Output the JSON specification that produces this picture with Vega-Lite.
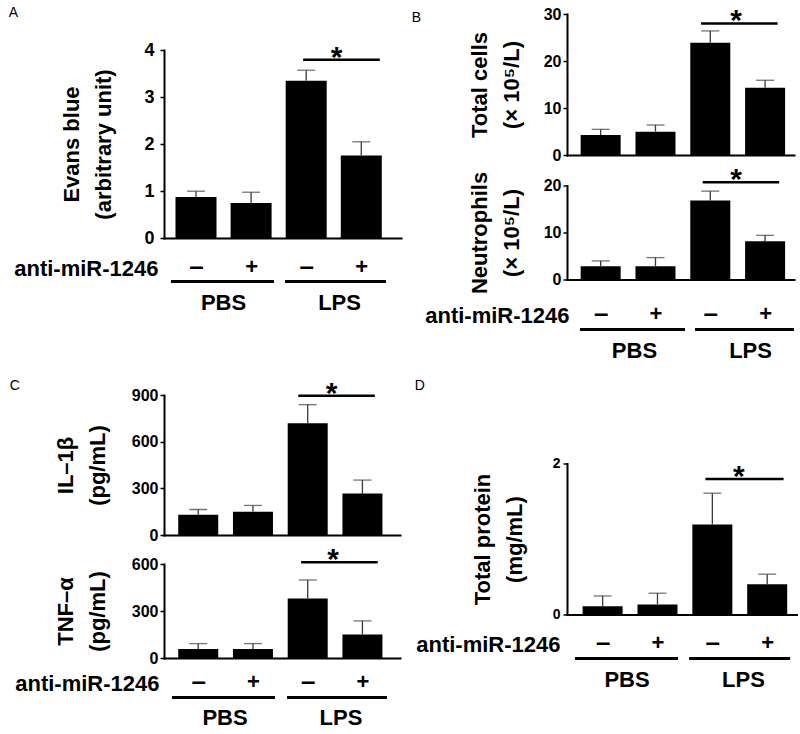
{
  "$schema": "https://vega.github.io/schema/vega-lite/v6.json",
  "padding": {"left": 8, "top": 6, "right": 0, "bottom": 0},
  "config": {
    "view": {"stroke": null},
    "font": "Liberation Sans",
    "axis": {"domainColor": "black", "domainWidth": 2, "domainCap": "square", "tickColor": "black", "tickWidth": 1.5, "labelColor": "black", "titleColor": "black", "labelFont": "Liberation Sans", "titleFont": "Liberation Sans", "labelFontWeight": "bold", "titleFontWeight": "bold", "grid": false},
    "title": {"font": "Liberation Sans", "fontSize": 14, "fontWeight": "normal", "color": "black", "anchor": "start", "frame": "bounds"}
  },
  "vconcat": [
    {
      "hconcat": [
        {
          "title": {"text": "A", "offset": -6, "dx": -5},
          "spacing": 1,
          "vconcat": [
            {"width": 237, "height": 26, "data": {"values": []}, "mark": "point"},
            {
              "width": 237, "height": 188,
              "data": {"values": [
                {"pos": 1, "treatment": "PBS", "antimiR": "–", "value": 0.874, "upper": 0.996},
                {"pos": 2, "treatment": "PBS", "antimiR": "+", "value": 0.746, "upper": 0.974},
                {"pos": 3, "treatment": "LPS", "antimiR": "–", "value": 3.348, "upper": 3.57},
                {"pos": 4, "treatment": "LPS", "antimiR": "+", "value": 1.757, "upper": 2.047}
              ]},
              "layer": [
                {"mark": {"type": "bar", "color": "black", "width": 41, "orient": "vertical"},
                 "encoding": {
                   "x": {"field": "pos", "type": "quantitative", "scale": {"domain": [0.51, 4.63], "nice": false, "zero": false},
                         "axis": {"values": [1, 2, 3, 4], "labelExpr": "datum.value == 1 || datum.value == 3 ? '–' : '+'", "ticks": false, "tickSize": 0, "labelPadding": 28, "labelFontSize": {"condition": {"test": "datum.value == 1 || datum.value == 3", "value": 26}, "value": 22}, "labelBaseline": "middle", "labelFlush": false, "labelOverlap": false, "title": "anti-miR-1246", "titleFontSize": 22, "titleX": -6, "titleY": 30, "titleAlign": "right", "titleBaseline": "middle", "titleAngle": 0}},
                   "y": {"field": "value", "type": "quantitative", "stack": null, "scale": {"domain": [0, 4], "nice": false},
                         "axis": {"values": [0, 1, 2, 3, 4], "title": ["Evans blue", "(arbitrary unit)"], "titleFontSize": 22, "titleLineHeight": 32, "titlePadding": 28, "tickSize": 4, "labelPadding": 6, "labelFontSize": 18}}
                 }},
                {"mark": {"type": "rule", "color": "#3a3a3a", "strokeWidth": 1.3},
                 "encoding": {
                   "x": {"field": "pos", "type": "quantitative"},
                   "y": {"field": "value", "type": "quantitative"},
                   "y2": {"field": "upper"}
                 }},
                {"mark": {"type": "tick", "orient": "horizontal", "color": "#3a3a3a", "size": 18, "thickness": 1.3},
                 "encoding": {
                   "x": {"field": "pos", "type": "quantitative"},
                   "y": {"field": "upper", "type": "quantitative"}
                 }},
                {"data": {"values": [{"from": 2.944, "to": 4.336, "at": 3.553, "level": 3.79, "star": "*"}]},
                 "mark": {"type": "rule", "color": "black", "strokeWidth": 2.5},
                 "encoding": {
                   "x": {"field": "from", "type": "quantitative"},
                   "x2": {"field": "to"},
                   "y": {"field": "level", "type": "quantitative"}
                 }},
                {"data": {"values": [{"from": 2.944, "to": 4.336, "at": 3.553, "level": 3.79, "star": "*"}]},
                 "mark": {"type": "text", "fontSize": 30, "fontWeight": "bold", "baseline": "alphabetic", "dy": 7, "color": "black"},
                 "encoding": {
                   "x": {"field": "at", "type": "quantitative"},
                   "y": {"field": "level", "type": "quantitative"},
                   "text": {"field": "star"}
                 }}
              ]
            },
            {
              "width": 237, "height": 3,
              "data": {"values": [{"group": "PBS", "start": 0.631, "end": 2.423}, {"group": "LPS", "start": 2.614, "end": 4.370}]},
              "mark": {"type": "rect", "color": "black"},
              "encoding": {
                "x": {"field": "start", "type": "quantitative", "scale": {"domain": [0.51, 4.63], "nice": false, "zero": false},
                      "axis": {"values": [1.536, 3.553], "labelExpr": "datum.value < 2.5 ? 'PBS' : 'LPS'", "domain": false, "ticks": false, "tickSize": 0, "labelPadding": 9, "labelFontSize": 22, "labelFlush": false, "labelOverlap": false, "title": null}},
                "x2": {"field": "end"}
              }
            }
          ]
        },
        {
          "title": {"text": "B", "offset": -19, "dx": -13},
          "spacing": 1.5,
          "vconcat": [
            {
              "width": 227, "height": 141,
              "data": {"values": [
                {"pos": 1, "treatment": "PBS", "antimiR": "–", "value": 4.26, "upper": 5.46},
                {"pos": 2, "treatment": "PBS", "antimiR": "+", "value": 4.96, "upper": 6.38},
                {"pos": 3, "treatment": "LPS", "antimiR": "–", "value": 23.9, "upper": 26.4},
                {"pos": 4, "treatment": "LPS", "antimiR": "+", "value": 14.3, "upper": 15.9}
              ]},
              "layer": [
                {"mark": {"type": "bar", "color": "black", "width": 40, "orient": "vertical"},
                 "encoding": {
                   "x": {"field": "pos", "type": "quantitative", "scale": {"domain": [0.477, 4.436], "nice": false, "zero": false},
                         "axis": {"labels": false, "ticks": false, "tickSize": 0, "title": null}},
                   "y": {"field": "value", "type": "quantitative", "stack": null, "scale": {"domain": [0, 30], "nice": false},
                         "axis": {"values": [0, 10, 20, 30], "title": ["Total cells", "(× 10⁵/L)"], "titleFontSize": 22, "titleLineHeight": 32, "titlePadding": 20, "tickSize": 4, "labelPadding": 2, "labelFontSize": 16}}
                 }},
                {"mark": {"type": "rule", "color": "#3a3a3a", "strokeWidth": 1.3},
                 "encoding": {"x": {"field": "pos", "type": "quantitative"}, "y": {"field": "value", "type": "quantitative"}, "y2": {"field": "upper"}}},
                {"mark": {"type": "tick", "orient": "horizontal", "color": "#3a3a3a", "size": 18, "thickness": 1.3},
                 "encoding": {"x": {"field": "pos", "type": "quantitative"}, "y": {"field": "upper", "type": "quantitative"}}},
                {"data": {"values": [{"from": 2.832, "to": 4.227, "at": 3.47, "level": 28.0, "star": "*"}]},
                 "mark": {"type": "rule", "color": "black", "strokeWidth": 2.5},
                 "encoding": {"x": {"field": "from", "type": "quantitative"}, "x2": {"field": "to"}, "y": {"field": "level", "type": "quantitative"}}},
                {"data": {"values": [{"from": 2.832, "to": 4.227, "at": 3.47, "level": 28.0, "star": "*"}]},
                 "mark": {"type": "text", "fontSize": 30, "fontWeight": "bold", "baseline": "alphabetic", "dy": 7, "color": "black"},
                 "encoding": {"x": {"field": "at", "type": "quantitative"}, "y": {"field": "level", "type": "quantitative"}, "text": {"field": "star"}}}
              ]
            },
            {
              "width": 227, "height": 94,
              "data": {"values": [
                {"pos": 1, "treatment": "PBS", "antimiR": "–", "value": 2.82, "upper": 3.95},
                {"pos": 2, "treatment": "PBS", "antimiR": "+", "value": 2.82, "upper": 4.66},
                {"pos": 3, "treatment": "LPS", "antimiR": "–", "value": 16.8, "upper": 18.8},
                {"pos": 4, "treatment": "LPS", "antimiR": "+", "value": 8.12, "upper": 9.39}
              ]},
              "layer": [
                {"mark": {"type": "bar", "color": "black", "width": 40, "orient": "vertical"},
                 "encoding": {
                   "x": {"field": "pos", "type": "quantitative", "scale": {"domain": [0.477, 4.436], "nice": false, "zero": false},
                         "axis": {"values": [1, 2, 3, 4], "labelExpr": "datum.value == 1 || datum.value == 3 ? '–' : '+'", "ticks": false, "tickSize": 0, "labelPadding": 34, "labelFontSize": {"condition": {"test": "datum.value == 1 || datum.value == 3", "value": 26}, "value": 22}, "labelBaseline": "middle", "labelFlush": false, "labelOverlap": false, "title": "anti-miR-1246", "titleFontSize": 22, "titleX": 2, "titleY": 36, "titleAlign": "right", "titleBaseline": "middle", "titleAngle": 0}},
                   "y": {"field": "value", "type": "quantitative", "stack": null, "scale": {"domain": [0, 20], "nice": false},
                         "axis": {"values": [0, 10, 20], "title": ["Neutrophils", "(× 10⁵/L)"], "titleFontSize": 22, "titleLineHeight": 32, "titlePadding": 20, "tickSize": 4, "labelPadding": 2, "labelFontSize": 16}}
                 }},
                {"mark": {"type": "rule", "color": "#3a3a3a", "strokeWidth": 1.3},
                 "encoding": {"x": {"field": "pos", "type": "quantitative"}, "y": {"field": "value", "type": "quantitative"}, "y2": {"field": "upper"}}},
                {"mark": {"type": "tick", "orient": "horizontal", "color": "#3a3a3a", "size": 18, "thickness": 1.3},
                 "encoding": {"x": {"field": "pos", "type": "quantitative"}, "y": {"field": "upper", "type": "quantitative"}}},
                {"data": {"values": [{"from": 2.861, "to": 4.256, "at": 3.47, "level": 20.7, "star": "*"}]},
                 "mark": {"type": "rule", "color": "black", "strokeWidth": 2.5},
                 "encoding": {"x": {"field": "from", "type": "quantitative"}, "x2": {"field": "to"}, "y": {"field": "level", "type": "quantitative"}}},
                {"data": {"values": [{"from": 2.861, "to": 4.256, "at": 3.47, "level": 20.7, "star": "*"}]},
                 "mark": {"type": "text", "fontSize": 30, "fontWeight": "bold", "baseline": "alphabetic", "dy": 7, "color": "black"},
                 "encoding": {"x": {"field": "at", "type": "quantitative"}, "y": {"field": "level", "type": "quantitative"}, "text": {"field": "star"}}}
              ]
            },
            {
              "width": 227, "height": 3,
              "data": {"values": [{"group": "PBS", "start": 0.703, "end": 2.535}, {"group": "LPS", "start": 2.709, "end": 4.436}]},
              "mark": {"type": "rect", "color": "black"},
              "encoding": {
                "x": {"field": "start", "type": "quantitative", "scale": {"domain": [0.477, 4.436], "nice": false, "zero": false},
                      "axis": {"values": [1.645, 3.669], "labelExpr": "datum.value < 2.5 ? 'PBS' : 'LPS'", "domain": false, "ticks": false, "tickSize": 0, "labelPadding": 9, "labelFontSize": 22, "labelFlush": false, "labelOverlap": false, "title": null}},
                "x2": {"field": "end"}
              }
            }
          ]
        }
      ],
      "spacing": 10
    },
    {
      "hconcat": [
        {
          "title": {"text": "C", "offset": -14, "dx": -5},
          "spacing": 2,
          "vconcat": [
            {
              "width": 236, "height": 140,
              "data": {"values": [
                {"pos": 1, "treatment": "PBS", "antimiR": "–", "value": 130, "upper": 164},
                {"pos": 2, "treatment": "PBS", "antimiR": "+", "value": 149, "upper": 190},
                {"pos": 3, "treatment": "LPS", "antimiR": "–", "value": 718, "upper": 838},
                {"pos": 4, "treatment": "LPS", "antimiR": "+", "value": 267, "upper": 353}
              ]},
              "layer": [
                {"mark": {"type": "bar", "color": "black", "width": 40, "orient": "vertical"},
                 "encoding": {
                   "x": {"field": "pos", "type": "quantitative", "scale": {"domain": [0.466, 4.595], "nice": false, "zero": false},
                         "axis": {"labels": false, "ticks": false, "tickSize": 0, "title": null}},
                   "y": {"field": "value", "type": "quantitative", "stack": null, "scale": {"domain": [0, 900], "nice": false},
                         "axis": {"values": [0, 300, 600, 900], "title": ["IL–1β", "(pg/mL)"], "titleFontSize": 22, "titleLineHeight": 32, "titlePadding": 22, "tickSize": 4, "labelPadding": 2, "labelFontSize": 16}}
                 }},
                {"mark": {"type": "rule", "color": "#3a3a3a", "strokeWidth": 1.3},
                 "encoding": {"x": {"field": "pos", "type": "quantitative"}, "y": {"field": "value", "type": "quantitative"}, "y2": {"field": "upper"}}},
                {"mark": {"type": "tick", "orient": "horizontal", "color": "#3a3a3a", "size": 18, "thickness": 1.3},
                 "encoding": {"x": {"field": "pos", "type": "quantitative"}, "y": {"field": "upper", "type": "quantitative"}}},
                {"data": {"values": [{"from": 2.828, "to": 4.227, "at": 3.437, "level": 895, "star": "*"}]},
                 "mark": {"type": "rule", "color": "black", "strokeWidth": 2.5},
                 "encoding": {"x": {"field": "from", "type": "quantitative"}, "x2": {"field": "to"}, "y": {"field": "level", "type": "quantitative"}}},
                {"data": {"values": [{"from": 2.828, "to": 4.227, "at": 3.437, "level": 895, "star": "*"}]},
                 "mark": {"type": "text", "fontSize": 30, "fontWeight": "bold", "baseline": "alphabetic", "dy": 7, "color": "black"},
                 "encoding": {"x": {"field": "at", "type": "quantitative"}, "y": {"field": "level", "type": "quantitative"}, "text": {"field": "star"}}}
              ]
            },
            {
              "width": 236, "height": 94,
              "data": {"values": [
                {"pos": 1, "treatment": "PBS", "antimiR": "–", "value": 58, "upper": 92},
                {"pos": 2, "treatment": "PBS", "antimiR": "+", "value": 58, "upper": 92},
                {"pos": 3, "treatment": "LPS", "antimiR": "–", "value": 380, "upper": 498},
                {"pos": 4, "treatment": "LPS", "antimiR": "+", "value": 150, "upper": 237}
              ]},
              "layer": [
                {"mark": {"type": "bar", "color": "black", "width": 40, "orient": "vertical"},
                 "encoding": {
                   "x": {"field": "pos", "type": "quantitative", "scale": {"domain": [0.466, 4.595], "nice": false, "zero": false},
                         "axis": {"values": [1, 2, 3, 4], "labelExpr": "datum.value == 1 || datum.value == 3 ? '–' : '+'", "ticks": false, "tickSize": 0, "labelPadding": 23, "labelFontSize": {"condition": {"test": "datum.value == 1 || datum.value == 3", "value": 26}, "value": 22}, "labelBaseline": "middle", "labelFlush": false, "labelOverlap": false, "title": "anti-miR-1246", "titleFontSize": 22, "titleX": -5, "titleY": 25, "titleAlign": "right", "titleBaseline": "middle", "titleAngle": 0}},
                   "y": {"field": "value", "type": "quantitative", "stack": null, "scale": {"domain": [0, 600], "nice": false},
                         "axis": {"values": [0, 300, 600], "title": ["TNF–α", "(pg/mL)"], "titleFontSize": 22, "titleLineHeight": 32, "titlePadding": 22, "tickSize": 4, "labelPadding": 2, "labelFontSize": 16}}
                 }},
                {"mark": {"type": "rule", "color": "#3a3a3a", "strokeWidth": 1.3},
                 "encoding": {"x": {"field": "pos", "type": "quantitative"}, "y": {"field": "value", "type": "quantitative"}, "y2": {"field": "upper"}}},
                {"mark": {"type": "tick", "orient": "horizontal", "color": "#3a3a3a", "size": 18, "thickness": 1.3},
                 "encoding": {"x": {"field": "pos", "type": "quantitative"}, "y": {"field": "upper", "type": "quantitative"}}},
                {"data": {"values": [{"from": 2.880, "to": 4.280, "at": 3.463, "level": 611, "star": "*"}]},
                 "mark": {"type": "rule", "color": "black", "strokeWidth": 2.5},
                 "encoding": {"x": {"field": "from", "type": "quantitative"}, "x2": {"field": "to"}, "y": {"field": "level", "type": "quantitative"}}},
                {"data": {"values": [{"from": 2.880, "to": 4.280, "at": 3.463, "level": 611, "star": "*"}]},
                 "mark": {"type": "text", "fontSize": 30, "fontWeight": "bold", "baseline": "alphabetic", "dy": 7, "color": "black"},
                 "encoding": {"x": {"field": "at", "type": "quantitative"}, "y": {"field": "level", "type": "quantitative"}, "text": {"field": "star"}}}
              ]
            },
            {
              "width": 236, "height": 3,
              "data": {"values": [{"group": "PBS", "start": 0.606, "end": 2.408}, {"group": "LPS", "start": 2.618, "end": 4.367}]},
              "mark": {"type": "rect", "color": "black"},
              "encoding": {
                "x": {"field": "start", "type": "quantitative", "scale": {"domain": [0.466, 4.595], "nice": false, "zero": false},
                      "axis": {"values": [1.525, 3.554], "labelExpr": "datum.value < 2.5 ? 'PBS' : 'LPS'", "domain": false, "ticks": false, "tickSize": 0, "labelPadding": 8, "labelFontSize": 22, "labelFlush": false, "labelOverlap": false, "title": null}},
                "x2": {"field": "end"}
              }
            }
          ]
        },
        {
          "title": {"text": "D", "offset": 2, "dx": -1},
          "spacing": 1.5,
          "vconcat": [
            {"width": 231, "height": 60, "data": {"values": []}, "mark": "point"},
            {
              "width": 231, "height": 151,
              "data": {"values": [
                {"pos": 1, "treatment": "PBS", "antimiR": "–", "value": 0.11, "upper": 0.246},
                {"pos": 2, "treatment": "PBS", "antimiR": "+", "value": 0.132, "upper": 0.282},
                {"pos": 3, "treatment": "LPS", "antimiR": "–", "value": 1.192, "upper": 1.607},
                {"pos": 4, "treatment": "LPS", "antimiR": "+", "value": 0.401, "upper": 0.534}
              ]},
              "layer": [
                {"mark": {"type": "bar", "color": "black", "width": 40, "orient": "vertical"},
                 "encoding": {
                   "x": {"field": "pos", "type": "quantitative", "scale": {"domain": [0.442, 4.47], "nice": false, "zero": false},
                         "axis": {"values": [1, 2, 3, 4], "labelExpr": "datum.value == 1 || datum.value == 3 ? '–' : '+'", "ticks": false, "tickSize": 0, "labelPadding": 28, "labelFontSize": {"condition": {"test": "datum.value == 1 || datum.value == 3", "value": 26}, "value": 22}, "labelBaseline": "middle", "labelFlush": false, "labelOverlap": false, "title": "anti-miR-1246", "titleFontSize": 22, "titleX": -7, "titleY": 30, "titleAlign": "right", "titleBaseline": "middle", "titleAngle": 0}},
                   "y": {"field": "value", "type": "quantitative", "stack": null, "scale": {"domain": [0, 2], "nice": false},
                         "axis": {"values": [0, 1, 2], "format": "d", "title": ["Total protein", "(mg/mL)"], "titleFontSize": 22, "titleLineHeight": 32, "titlePadding": 26, "tickSize": 4, "labelPadding": 3, "labelFontSize": 14}}
                 }},
                {"mark": {"type": "rule", "color": "#3a3a3a", "strokeWidth": 1.3},
                 "encoding": {"x": {"field": "pos", "type": "quantitative"}, "y": {"field": "value", "type": "quantitative"}, "y2": {"field": "upper"}}},
                {"mark": {"type": "tick", "orient": "horizontal", "color": "#3a3a3a", "size": 18, "thickness": 1.3},
                 "encoding": {"x": {"field": "pos", "type": "quantitative"}, "y": {"field": "upper", "type": "quantitative"}}},
                {"data": {"values": [{"from": 2.873, "to": 4.298, "at": 3.483, "level": 1.796, "star": "*"}]},
                 "mark": {"type": "rule", "color": "black", "strokeWidth": 2.5},
                 "encoding": {"x": {"field": "from", "type": "quantitative"}, "x2": {"field": "to"}, "y": {"field": "level", "type": "quantitative"}}},
                {"data": {"values": [{"from": 2.873, "to": 4.298, "at": 3.483, "level": 1.796, "star": "*"}]},
                 "mark": {"type": "text", "fontSize": 30, "fontWeight": "bold", "baseline": "alphabetic", "dy": 7, "color": "black"},
                 "encoding": {"x": {"field": "at", "type": "quantitative"}, "y": {"field": "level", "type": "quantitative"}, "text": {"field": "star"}}}
              ]
            },
            {
              "width": 231, "height": 3,
              "data": {"values": [{"group": "PBS", "start": 0.581, "end": 2.379}, {"group": "LPS", "start": 2.571, "end": 4.333}]},
              "mark": {"type": "rect", "color": "black"},
              "encoding": {
                "x": {"field": "start", "type": "quantitative", "scale": {"domain": [0.442, 4.47], "nice": false, "zero": false},
                      "axis": {"values": [1.48, 3.51], "labelExpr": "datum.value < 2.5 ? 'PBS' : 'LPS'", "domain": false, "ticks": false, "tickSize": 0, "labelPadding": 9, "labelFontSize": 22, "labelFlush": false, "labelOverlap": false, "title": null}},
                "x2": {"field": "end"}
              }
            }
          ]
        }
      ],
      "spacing": 14
    }
  ],
  "spacing": 17
}
